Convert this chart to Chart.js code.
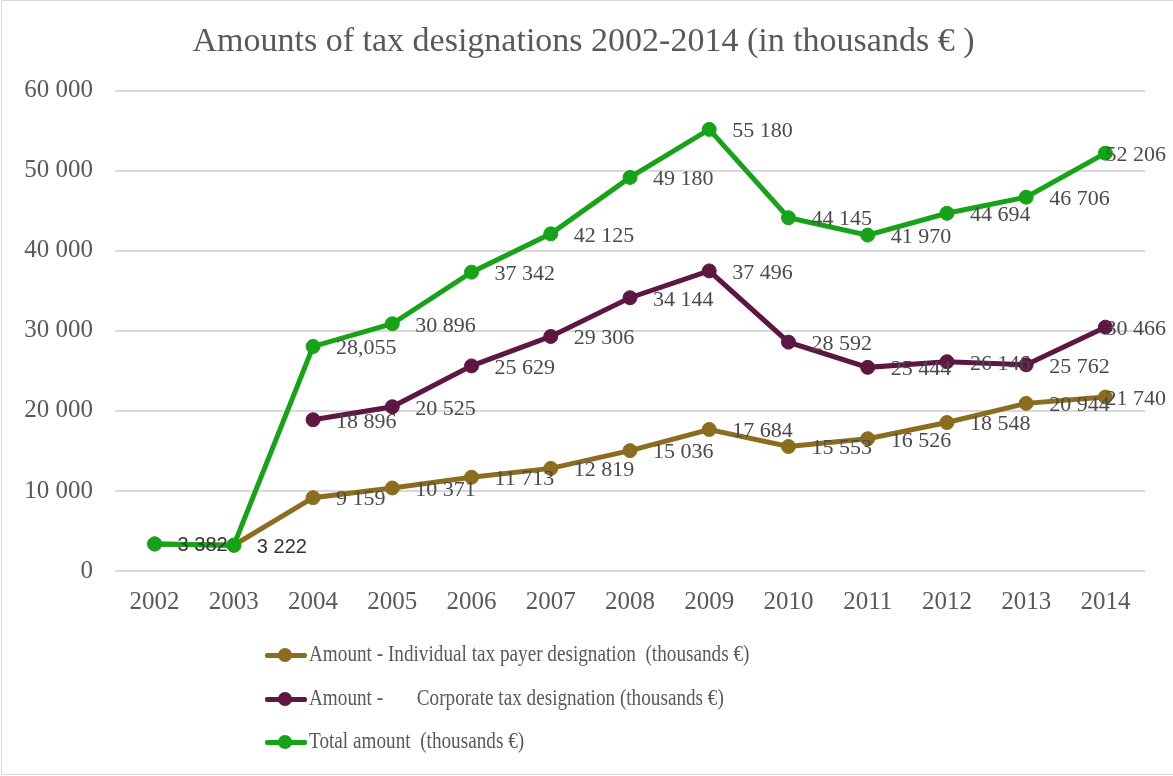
<!DOCTYPE html>
<html>
<head>
<meta charset="utf-8">
<title>Amounts of tax designations 2002-2014</title>
<script src="https://cdn.jsdelivr.net/npm/chart.js@4.4.1/dist/chart.umd.min.js"></script>
<style>
  body { margin: 0; background: #fff; }
  #wrap { position: relative; width: 1173px; height: 776px; }
  #frame {
    position: absolute; left: 1px; top: 0; width: 1172px; height: 775px;
    border-left: 1px solid #d9d9d9; border-top: 1px solid #d9d9d9; border-bottom: 1px solid #d9d9d9;
    box-sizing: border-box; pointer-events: none;
  }
  #legend { position: absolute; left: 265px; top: 634px; }
  .legend-item { position: relative; height: 43.5px; }
  .legend-item .swatch { position: absolute; left: 0; top: 19px; width: 42px; height: 5px; border-radius: 2px; }
  .legend-item .dot { position: absolute; left: 13px; top: 14px; width: 14px; height: 14px; border-radius: 50%; }
  .legend-item .text {
    position: absolute; left: 44px; top: 5px; white-space: pre;
    font-family: 'Liberation Serif', serif; font-size: 24px; line-height: 28px; color: #595959;
    transform: scaleX(0.8); transform-origin: left center;
  }
</style>
</head>
<body>
<div id="wrap">
  <canvas id="taxChart"></canvas>
  <div id="legend"></div>
  <div id="frame"></div>
</div>
<script>
// Chart data
const years = ['2002', '2003', '2004', '2005', '2006', '2007', '2008', '2009', '2010', '2011', '2012', '2013', '2014'];
const individualAmounts = [3382, 3222, 9159, 10371, 11713, 12819, 15036, 17684, 15553, 16526, 18548, 20944, 21740];
const corporateAmounts = [null, null, 18896, 20525, 25629, 29306, 34144, 37496, 28592, 25444, 26146, 25762, 30466];
const totalAmounts = [3382, 3222, 28055, 30896, 37342, 42125, 49180, 55180, 44145, 41970, 44694, 46706, 52206];
const yTicks = [0, 10000, 20000, 30000, 40000, 50000, 60000];

const seriesNames = [
  'Amount - Individual tax payer designation  (thousands €)',
  'Amount -       Corporate tax designation (thousands €)',
  'Total amount  (thousands €)'
];

// Format like "55 180"
function formatNumber(v) {
  return String(v).replace(/\B(?=(\d{3})+(?!\d))/g, ' ');
}

// Data labels drawn right of each point, kept inside the canvas
const pointLabels = {
  id: 'pointLabels',
  afterDatasetsDraw(chart) {
    const ctx = chart.ctx;
    const maxRight = chart.width - 7;
    ctx.save();
    ctx.textAlign = 'left';
    ctx.textBaseline = 'middle';
    chart.data.datasets.forEach((ds, i) => {
      const meta = chart.getDatasetMeta(i);
      meta.data.forEach((pt, j) => {
        const v = ds.data[j];
        if (v == null || (ds.hideLabels || []).includes(j)) return;
        const sans = (ds.sansLabels || []).includes(j);
        ctx.font = sans ? '20px "Liberation Sans", Roboto, sans-serif' : '22px "Liberation Serif", serif';
        ctx.fillStyle = sans ? '#333333' : '#4a4a4a';
        const text = (ds.labelText && ds.labelText[j]) || formatNumber(v);
        const w = ctx.measureText(text).width;
        const x = Math.min(pt.x + 23, maxRight - w);
        ctx.fillText(text, x, pt.y + 2);
      });
    });
    ctx.restore();
  }
};

Chart.defaults.font.family = '"Liberation Serif", serif';
Chart.defaults.color = '#595959';

function lineSeries(label, data, color, order) {
  return {
    label: label,
    data: data,
    borderColor: color,
    backgroundColor: color,
    pointBackgroundColor: color,
    pointBorderColor: color,
    pointRadius: 7,
    pointBorderWidth: 1,
    borderWidth: 5,
    tension: 0,
    spanGaps: false,
    order: order
  };
}

const datasets = [
  Object.assign(lineSeries(seriesNames[0], individualAmounts, '#8c6d1f', 3), { hideLabels: [0, 1] }),
  lineSeries(seriesNames[1], corporateAmounts, '#5e1742', 2),
  Object.assign(lineSeries(seriesNames[2], totalAmounts, '#17a317', 1), {
    sansLabels: [0, 1],
    labelText: { 2: '28,055' }
  })
];

const chart = new Chart(document.getElementById('taxChart').getContext('2d'), {
  type: 'line',
  data: { labels: years, datasets: datasets },
  plugins: [pointLabels],
  options: {
    responsive: true,
    maintainAspectRatio: false,
    animation: false,
    layout: { padding: { left: 22, right: 28, top: 0, bottom: 150 } },
    plugins: {
      legend: { display: false },
      tooltip: { enabled: false },
      title: {
        display: true,
        text: 'Amounts of tax designations 2002-2014 (in thousands € )',
        font: { size: 34, weight: 'normal', lineHeight: 1.2 },
        color: '#595959',
        padding: { top: 22, bottom: 28 }
      }
    },
    scales: {
      x: {
        offset: true,
        grid: { display: false, drawTicks: false },
        border: { display: false },
        ticks: { font: { size: 25 }, color: '#595959', padding: 16, maxRotation: 0 },
        afterFit: scale => { scale.height = 55; }
      },
      y: {
        min: 0,
        max: 60000,
        afterBuildTicks: scale => { scale.ticks = yTicks.map(v => ({ value: v })); },
        grid: { color: '#d9d9d9', lineWidth: 2, drawTicks: false },
        border: { display: false },
        ticks: { font: { size: 25 }, color: '#595959', padding: 22, callback: v => formatNumber(v) },
        afterFit: scale => { scale.width = 93; }
      }
    }
  }
});

// HTML legend, stacked vertically
const legendEl = document.getElementById('legend');
chart.data.datasets.forEach(ds => {
  const item = document.createElement('div');
  item.className = 'legend-item';
  item.innerHTML = `
    <div class="swatch" style="background:${ds.borderColor}"></div>
    <div class="dot" style="background:${ds.borderColor}"></div>
    <div class="text"></div>`;
  item.querySelector('.text').textContent = ds.label;
  legendEl.appendChild(item);
});
</script>
</body>
</html>
